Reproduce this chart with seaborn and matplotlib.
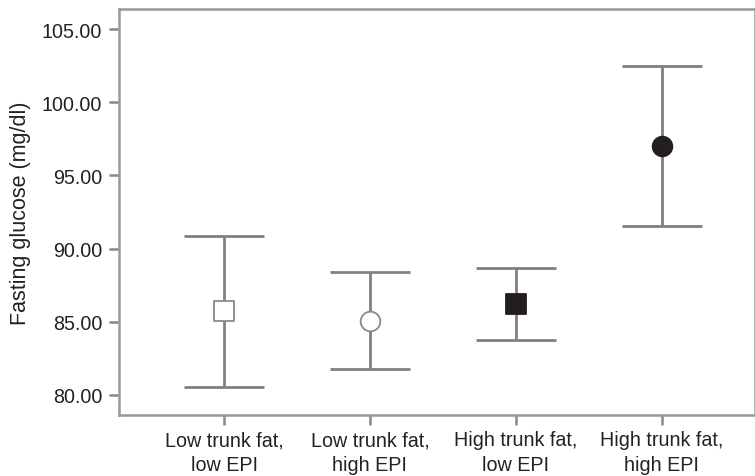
import matplotlib
matplotlib.use("Agg")
import matplotlib.pyplot as plt
import seaborn as sns
import pandas as pd

categories = ["Low trunk fat,\nlow EPI", "Low trunk fat,\nhigh EPI",
              "High trunk fat,\nlow EPI", "High trunk fat,\nhigh EPI"]
means = [85.72, 85.07, 86.18, 96.98]
upper = [90.87, 88.40, 88.68, 102.46]
lower = [80.52, 81.78, 83.77, 91.52]
yticks = [80, 85, 90, 95, 100, 105]

markers = ["s", "o", "s", "o"]
faces = ["white", "white", "#231f20", "#231f20"]
edges = ["#8a8a8a", "#8a8a8a", "#231f20", "#231f20"]

df = pd.DataFrame({"group": categories, "mean": means, "upper": upper, "lower": lower})
df["x"] = range(len(df))

sns.set_style("white")
plt.rcParams["font.family"] = ["Liberation Sans", "DejaVu Sans"]

fig = plt.figure(figsize=(7.55, 4.77), dpi=100)
ax = fig.add_axes([0.1576, 0.128, 0.8424, 0.851])

gray = "#808080"
for i, row in df.iterrows():
    ax.errorbar(row["x"], row["mean"],
                yerr=[[row["mean"] - row["lower"]], [row["upper"] - row["mean"]]],
                fmt="none", ecolor=gray, elinewidth=2, capsize=28.5, capthick=2, zorder=2)

for i, row in df.iterrows():
    sns.scatterplot(x=[row["x"]], y=[row["mean"]], marker=markers[i], s=200,
                    color=faces[i], edgecolor=edges[i], linewidth=1.3, ax=ax, zorder=3, legend=False)

ax.set_xlim(-0.72, 3.64)
ax.set_ylim(78.63, 106.37)
ax.set_xticks(df["x"])
ax.set_xticklabels(categories, fontsize=14.2, color="#222222", linespacing=1.4)
ax.set_yticks(yticks)
ax.set_yticklabels([f"{v:.2f}" for v in yticks], fontsize=14.2, color="#222222")
ax.set_ylabel("Fasting glucose (mg/dl)", fontsize=15.5, color="#222222", labelpad=8)
ax.set_xlabel("")
for s in ax.spines.values():
    s.set_color("#999999")
    s.set_linewidth(1.8)
ax.tick_params(axis="both", which="major", direction="out", length=7, width=1.8,
               color="#888888", left=True, bottom=True)
ax.tick_params(axis="y", pad=5)
ax.tick_params(axis="x", pad=4)
fig.savefig("out.png", dpi=100)
